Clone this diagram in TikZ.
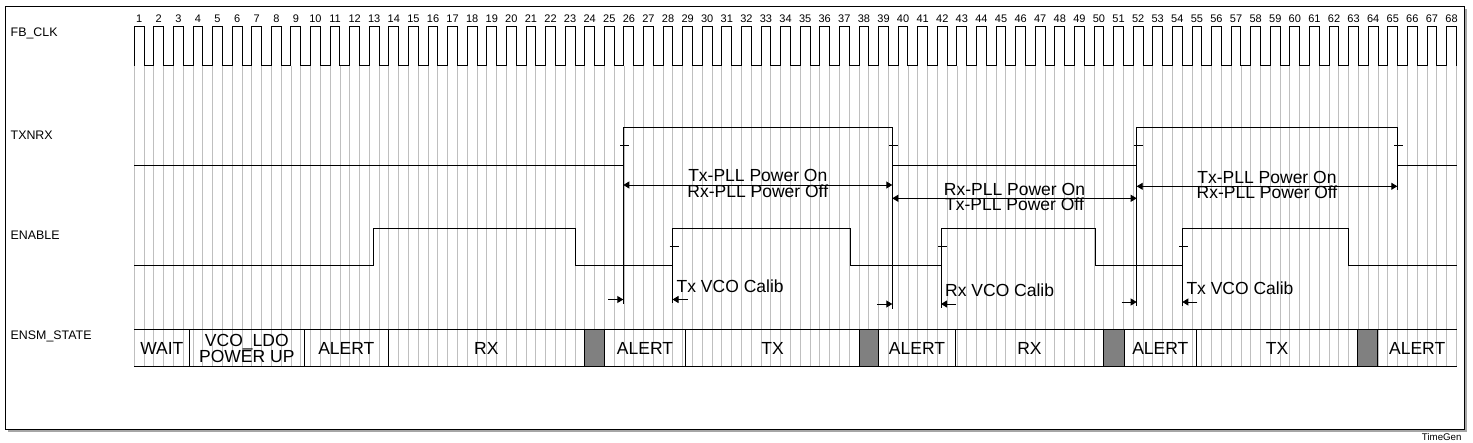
\documentclass[tikz,border=0pt]{standalone}
\usepackage{fontspec}
\setmainfont{Liberation Sans}
\usetikzlibrary{arrows.meta}
\tikzset{
  gridln/.style={draw=black!25,line width=0.9pt},
  wave/.style={draw=black,line width=1pt},
  signame/.style={anchor=west,inner sep=0pt,font=\fontsize{12.4}{14}\selectfont},
  cyclenum/.style={inner sep=0pt,font=\fontsize{11}{12}\selectfont},
  statetxt/.style={inner sep=0pt,align=center,font=\fontsize{17.5}{15}\selectfont},
  notetxt/.style={inner sep=0pt,align=center,font=\fontsize{17.5}{15.5}\selectfont},
  spanarrow/.style={line width=0.9pt,{Triangle[length=6pt,width=7pt]}-{Triangle[length=6pt,width=7pt]}},
  delayarrow/.style={line width=0.9pt,-{Triangle[length=6pt,width=7pt]}},
}
\begin{document}
\begin{tikzpicture}[x=1pt,y=-1pt]
\useasboundingbox (0,0) rectangle (1473,443);
\pgfmathsetmacro{\kxo}{134.3}
\pgfmathsetmacro{\kxe}{1456.7}
\pgfmathsetmacro{\kper}{19.587}
\pgfmathsetmacro{\khalf}{\kper/2}
\fill[black!35](8,9.5) rectangle (1467.3,432.3);
\draw[fill=white,line width=1pt](5.3,6.7) rectangle (1464.3,429.3);
\node[inner sep=0pt,font=\fontsize{9.7}{11}\selectfont](tgen) at (1441.7,436.7){TimeGen};
\foreach \k in {0,...,135}{\draw[gridln](\kxo+\k*\khalf,65.7)--(\kxo+\k*\khalf,367);}
\foreach \a/\b in {584.3/604.3,859.3/878.6,1103.5/1124.3,1357.7/1377.7}{\fill[black!50](\a,329.3) rectangle (\b,367);}
\foreach \y/\s/\nm in {33/FB\_CLK/sclk,135/TXNRX/stxnrx,235/ENABLE/senable,336.7/ENSM\_STATE/sensm}{\node[signame](\nm) at (10.5,\y){\s};}
\draw[wave](\kxo,65.7)\foreach \n in {1,...,67}{--++(0,-39)--++(\khalf,0)--++(0,39)--++(\khalf,0)}--++(0,-39)--++(\khalf,0)--++(0,39);
\foreach \n in {1,...,68}{\node[cyclenum](c\n) at (\kxo+\n*\kper-\kper+\khalf/2,19){\n};}
\draw[wave](\kxo,165.7)-|(623.3,127.3)-|(892.3,165.7)-|(1136.7,127.3)-|(1397.3,165.7)--(\kxe,165.7);
\draw[wave](\kxo,265.7)-|(373.3,228.3)-|(575.7,265.7)-|(672.5,228.3)-|(850.7,265.7)-|(941,228.3)-|(1095.3,265.7)-|(1182.3,228.3)-|(1348.7,265.7)--(\kxe,265.7);
\foreach \x in {623.3,892.3,1136.7,1397.3}{\draw[wave](\x-3,146)--++(9,0);}
\foreach \x in {672.5,941,1182.3}{\draw[wave](\x-3,247)--++(9,0);}
\foreach \x/\y/\nm in {623.3/304/ta,892.3/309/tb,1136.7/306/tc,1397.3/190/td}{\coordinate(\nm) at (\x,\y);\draw[wave](\x,165.7)--(\nm);}
\foreach \x/\y/\nm in {672.5/303.5/ea,941/308/eb,1182.3/306.5/ec}{\coordinate(\nm) at (\x,\y);\draw[wave](\x,265.7)--(\nm);}
\foreach \nm/\x/\y in {p1l/623.3/185,p1r/892.3/185,p2l/892.3/198.3,p2r/1136.7/198.3,p3l/1136.7/186.3,p3r/1397.3/186.3}{\coordinate(\nm) at (\x,\y);}
\draw[spanarrow](p1l)--(p1r)node[midway,notetxt,yshift=1.5pt](pll1){Tx-PLL Power On\\Rx-PLL Power Off};
\draw[spanarrow](p2l)--(p2r)node[midway,notetxt,yshift=1.5pt](pll2){Rx-PLL Power On\\Tx-PLL Power Off};
\draw[spanarrow](p3l)--(p3r)node[midway,notetxt,yshift=1.5pt](pll3){Tx-PLL Power On\\Rx-PLL Power Off};
\foreach \nm/\x/\y in {d1l/623.3/299.5,d1r/672.5/299.5,d2l/892.3/304,d2r/941/304,d3l/1136.7/302,d3r/1182.3/302}{\coordinate(\nm) at (\x,\y);}
\foreach \l/\r/\s/\nm in {d1l/d1r/Tx/cal1,d2l/d2r/Rx/cal2,d3l/d3r/Tx/cal3}{
  \draw[delayarrow](\l)++(-15,0)--(\l);
  \draw[delayarrow](\r)++(15,0)--(\r);
  \node[notetxt,anchor=base west](\nm) at ([shift={(4,-7)}]\r){\s{} VCO Calib};}
\draw[wave](\kxo,329.3)--(\kxe,329.3)(\kxo,367)--(\kxe,367);
\foreach \x in {189.3,304.3,388.3,584.3,604.3,685.7,859.3,878.6,955.4,1103.5,1124.3,1196.3,1357.7,1377.7}{\draw[wave](\x,329.3)--(\x,367);}
\foreach \x/\s/\nm in {161.8/WAIT/st1,246.8/{VCO\_LDO\\POWER UP}/st2,346.3/ALERT/st3,486.3/RX/st4,645/ALERT/st5,772.5/TX/st6,917/ALERT/st7,1029.5/RX/st8,1160.3/ALERT/st9,1277/TX/st10,1417.2/ALERT/st11}{\node[statetxt](\nm) at (\x,348.6){\s};}
\end{tikzpicture}
\end{document}
